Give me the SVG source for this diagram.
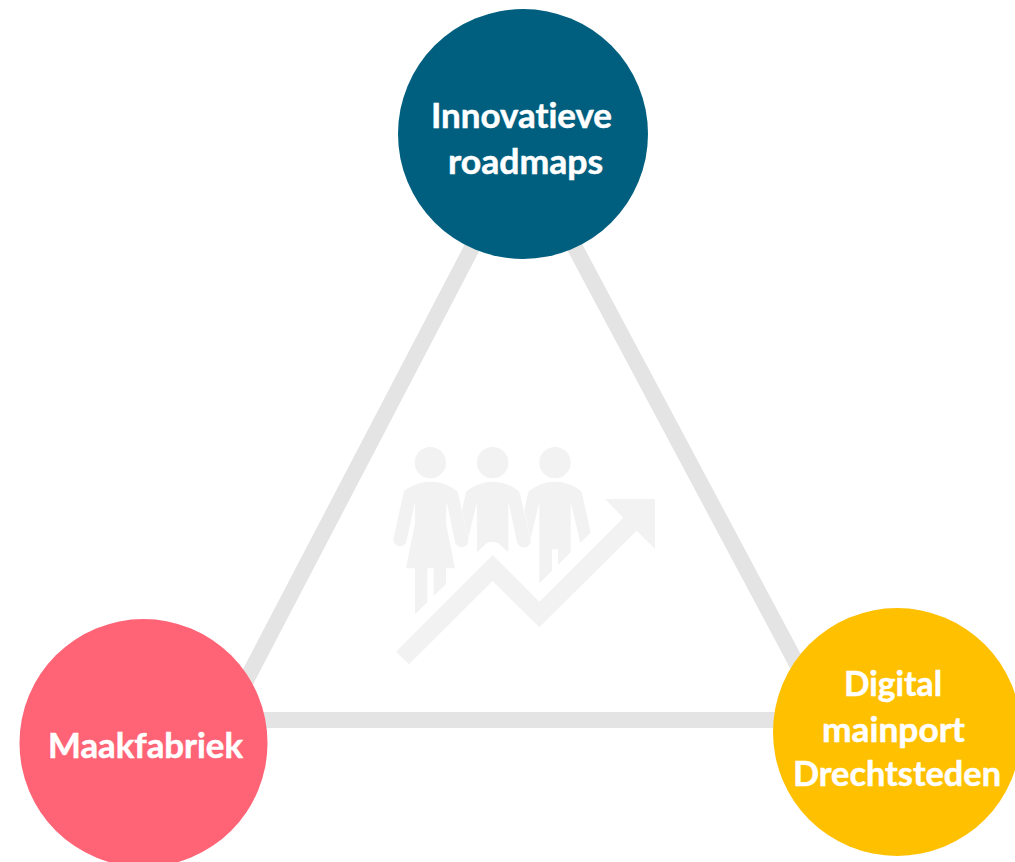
<svg xmlns="http://www.w3.org/2000/svg" width="1015" height="862" viewBox="0 0 1015 862">
<style>
.link{stroke:#e4e4e4;stroke-width:16;fill:none}
.icon{fill:#f2f2f2}
text{font-family:"Lato","Liberation Sans",sans-serif;font-weight:700;font-size:33.5px;fill:#fff;stroke:#fff;stroke-width:.5px;text-anchor:middle;font-variant-ligatures:none}
</style>
<rect width="1015" height="862" fill="#fff"/>
<g id="connectors">
<line class="link" x1="523" y1="150" x2="235" y2="701.7"/>
<line class="link" x1="523" y1="150" x2="815" y2="698"/>
<line class="link" x1="250" y1="720" x2="800" y2="720"/>
</g>
<g id="icon" class="icon" transform="translate(380 430) scale(.33333)">
<circle cx="151" cy="98" r="47"/><circle cx="338" cy="98" r="47"/><circle cx="525" cy="98" r="47"/>
<path d="M72 183C95 165 125 155 152 155C180 155 210 165 233 185L265 328A20 20 0 0 1 225 335L200 215L198 280L225 415H198V462L161 498V415H142V517L105 553V415H78L105 280V215L79 335A20 20 0 0 1 40 328Z"/>
<path d="M258 185C281 165 311 155 338 155C366 155 396 165 418 185L452 328A20 20 0 0 1 411 335L385 215V367L355 340Q338 332 320 340L291 367V215L265 325L246 240Z"/>
<path d="M445 185C468 165 498 155 525 155C553 155 583 165 605 185L632 308L601 338L572 215V367L534 405V358H516V423L478 460V215L452 325L433 240Z"/>
<path d="M48 665L338 375L478 515L730 263L675 207H825V357L770 302L478 592L338 453L87 703Z"/>
</g>
<g id="node-innovatieve">
<circle cx="523" cy="134" r="125" fill="#005f7f"/>
<text x="521.5" y="128" textLength="181" lengthAdjust="spacingAndGlyphs">Innovatieve</text>
<text x="525.5" y="173.5" textLength="155" lengthAdjust="spacingAndGlyphs">roadmaps</text>
</g>
<g id="node-maakfabriek">
<circle cx="143.5" cy="743" r="124" fill="#ff6476"/>
<text x="145.5" y="758" textLength="195" lengthAdjust="spacingAndGlyphs">Maakfabriek</text>
</g>
<g id="node-digital">
<circle cx="897" cy="732" r="124" fill="#ffc000"/>
<text x="893" y="696" textLength="98" lengthAdjust="spacingAndGlyphs">Digital</text>
<text x="893.5" y="742" textLength="143" lengthAdjust="spacingAndGlyphs">mainport</text>
<text x="897" y="786" textLength="208" lengthAdjust="spacingAndGlyphs">Drechtsteden</text>
</g>
</svg>
